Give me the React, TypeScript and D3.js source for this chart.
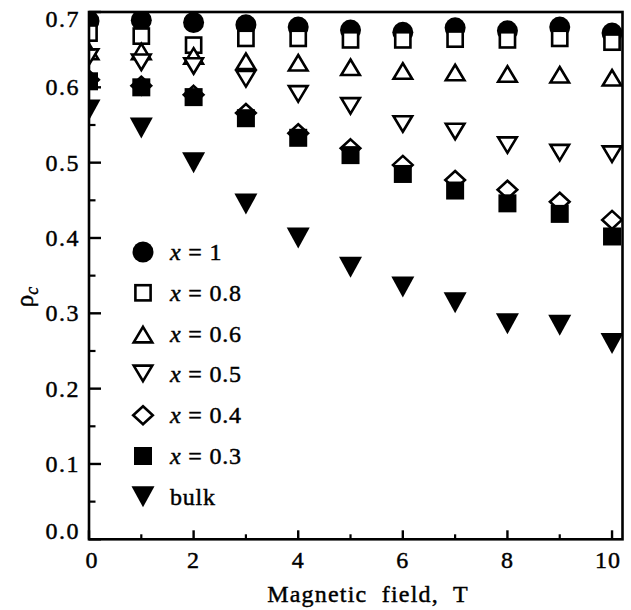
import React from "react";
import * as d3 from "d3";

const fields = [0, 1, 2, 3, 4, 5, 6, 7, 8, 9, 10];
const seriesX1 = [0.688, 0.689, 0.686, 0.683, 0.680, 0.676, 0.673, 0.679, 0.675, 0.680, 0.672];
const seriesX08 = [0.672, 0.668, 0.656, 0.665, 0.665, 0.663, 0.663, 0.664, 0.663, 0.665, 0.660];
const seriesX06 = [0.649, 0.649, 0.643, 0.636, 0.634, 0.628, 0.623, 0.621, 0.619, 0.618, 0.614];
const seriesX05 = [0.639, 0.632, 0.627, 0.610, 0.590, 0.574, 0.550, 0.540, 0.522, 0.512, 0.510];
const seriesX04 = [0.610, 0.602, 0.590, 0.566, 0.539, 0.519, 0.497, 0.477, 0.464, 0.448, 0.424];
const seriesX03 = [0.608, 0.600, 0.587, 0.559, 0.533, 0.510, 0.485, 0.463, 0.446, 0.432, 0.402];
const seriesBulk = [0.570, 0.546, 0.500, 0.445, 0.400, 0.361, 0.335, 0.314, 0.286, 0.284, 0.260];

const legendLabels = ["x = 1", "x = 0.8", "x = 0.6", "x = 0.5", "x = 0.4", "x = 0.3", "bulk"];
const xTicks = [0, 2, 4, 6, 8, 10];
const xMinorTicks = [1, 3, 5, 7, 9];
const yTicks = [0, 0.1, 0.2, 0.3, 0.4, 0.5, 0.6, 0.7];
const yMinorTicks = [0.05, 0.15, 0.25, 0.35, 0.45, 0.55, 0.65];

const W = 631, H = 610;
const L = 89, R = 622.5, T = 12, B = 539.3;
const FONT = "Liberation Serif";

type Kind = "circle" | "square" | "triUp" | "triDown" | "diamond" | "fsquare" | "fTriDown";

const series: { kind: Kind; values: number[] }[] = [
  { kind: "circle", values: seriesX1 },
  { kind: "square", values: seriesX08 },
  { kind: "triUp", values: seriesX06 },
  { kind: "triDown", values: seriesX05 },
  { kind: "diamond", values: seriesX04 },
  { kind: "fsquare", values: seriesX03 },
  { kind: "fTriDown", values: seriesBulk },
];

function Marker({ kind, cx, cy }: { kind: Kind; cx: number; cy: number }) {
  const sw = 2.6;
  const open = { fill: "#fff", stroke: "#000", strokeWidth: sw, strokeLinejoin: "miter" as const };
  switch (kind) {
    case "circle":
      return <circle cx={cx} cy={cy} r={10.5} fill="#000" />;
    case "square":
      return <rect x={cx - 7.6} y={cy - 7.6} width={15.2} height={15.2} {...open} />;
    case "triUp": {
      const hw = 9.3, h = 15.5;
      return <path d={`M${cx},${cy - h / 2 + 1}L${cx + hw},${cy + h / 2 + 1}L${cx - hw},${cy + h / 2 + 1}Z`} {...open} />;
    }
    case "triDown": {
      const hw = 9.3, h = 15.5;
      return <path d={`M${cx},${cy + h / 2 - 1}L${cx + hw},${cy - h / 2 - 1}L${cx - hw},${cy - h / 2 - 1}Z`} {...open} />;
    }
    case "diamond":
      return <path d={`M${cx},${cy - 9}L${cx + 9.8},${cy}L${cx},${cy + 9}L${cx - 9.8},${cy}Z`} {...open} />;
    case "fsquare":
      return <rect x={cx - 9} y={cy - 9} width={18} height={18} fill="#000" />;
    case "fTriDown": {
      const hw = 11.5, h = 21;
      return <path d={`M${cx},${cy + h / 2}L${cx + hw},${cy - h / 2}L${cx - hw},${cy - h / 2}Z`} fill="#000" />;
    }
  }
  return null;
}

export default function App() {
  const x = d3.scaleLinear().domain([0, 10.2]).range([L, R]);
  const y = d3.scaleLinear().domain([0, 0.7]).range([B, T]);

  const legendX = 143;
  const legendY0 = 252;
  const legendStep = 40.8;

  const textStyle = { fontFamily: FONT, fill: "#000", stroke: "#000", strokeWidth: 0.45 } as const;

  return (
    <svg width={W} height={H} style={{ position: "absolute", left: 0, top: 0, background: "#fff" }}>
      <defs>
        <clipPath id="plotclip">
          <rect x={L} y={T} width={R - L} height={B - T} />
        </clipPath>
      </defs>
      <rect x={0} y={0} width={W} height={H} fill="#fff" />

      {/* data */}
      <g clipPath="url(#plotclip)">
        {series.map((s, si) => (
          <g key={si}>
            {s.values.map((v, i) => (
              <Marker key={i} kind={s.kind} cx={x(fields[i])} cy={y(v)} />
            ))}
          </g>
        ))}
      </g>

      {/* frame */}
      <rect x={L} y={T} width={R - L} height={B - T} fill="none" stroke="#000" strokeWidth={2.6} />

      {/* y ticks */}
      {yTicks.map((t) => (
        <line key={"yt" + t} x1={L} x2={L + 12} y1={y(t)} y2={y(t)} stroke="#000" strokeWidth={2.4} />
      ))}
      {yMinorTicks.map((t) => (
        <line key={"ym" + t} x1={L} x2={L + 6.5} y1={y(t)} y2={y(t)} stroke="#000" strokeWidth={2.2} />
      ))}
      {yTicks.map((t, i) => {
        const shift = i === 0 ? -8 : i === yTicks.length - 1 ? 7 : 0;
        return (
          <text key={"yl" + t} x={80} y={y(t) + shift + 8} textAnchor="end" fontSize={24} letterSpacing={1.5} style={textStyle}>
            {d3.format(".1f")(t)}
          </text>
        );
      })}

      {/* x ticks */}
      {xTicks.map((t) => (
        <line key={"xt" + t} x1={x(t)} x2={x(t)} y1={B} y2={B - 9} stroke="#000" strokeWidth={2.4} />
      ))}
      {xMinorTicks.map((t) => (
        <line key={"xm" + t} x1={x(t)} x2={x(t)} y1={B} y2={B - 5} stroke="#000" strokeWidth={2.2} />
      ))}
      {xTicks.map((t) => (
        <text key={"xl" + t} x={x(t) + (t === 0 ? 3 : t === 10 ? -4 : 0)} y={568} textAnchor="middle" fontSize={24} letterSpacing={1} style={textStyle}>
          {String(t)}
        </text>
      ))}

      {/* axis titles */}
      <text x={368} y={602} textAnchor="middle" fontSize={24} letterSpacing={1.2} style={{ ...textStyle, whiteSpace: "pre" }}>
        {"Magnetic  field,  T"}
      </text>
      <text transform="translate(33,297) rotate(-90)" textAnchor="middle" fontSize={25} style={textStyle}>
        <tspan>ρ</tspan>
        <tspan fontStyle="italic" fontSize={18} dy={5}>c</tspan>
      </text>

      {/* legend */}
      {series.map((s, i) => {
        const cy = legendY0 + i * legendStep;
        const label = legendLabels[i];
        return (
          <g key={"lg" + i}>
            <Marker kind={s.kind} cx={legendX} cy={cy} />
            {label.startsWith("x") ? (
              <text x={170} y={cy + 8} fontSize={24} letterSpacing={0.8} style={{ ...textStyle, whiteSpace: "pre" }}>
                <tspan fontStyle="italic">x</tspan>
                <tspan>{label.slice(1)}</tspan>
              </text>
            ) : (
              <text x={170} y={cy + 8} fontSize={24} letterSpacing={0.8} style={textStyle}>{label}</text>
            )}
          </g>
        );
      })}
    </svg>
  );
}
